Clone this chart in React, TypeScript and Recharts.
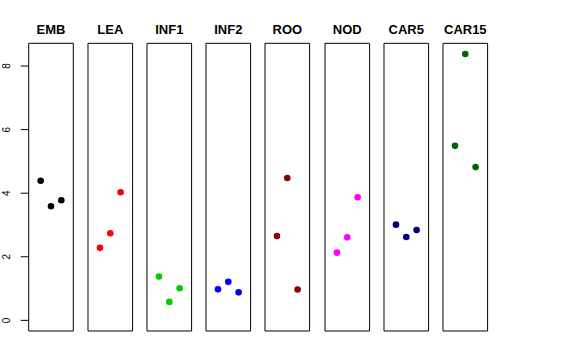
import { ScatterChart, Scatter, XAxis, YAxis, ReferenceArea } from 'recharts';

// tissue groups, left to right
const groups = ['EMB', 'LEA', 'INF1', 'INF2', 'ROO', 'NOD', 'CAR5', 'CAR15'];

// three replicates per group
const embValues = [4.39, 3.59, 3.78];
const leaValues = [2.28, 2.74, 4.03];
const inf1Values = [1.38, 0.58, 1.01];
const inf2Values = [0.98, 1.21, 0.88];
const rooValues = [2.65, 4.48, 0.97];
const nodValues = [2.13, 2.61, 3.87];
const car5Values = [3.01, 2.62, 2.84];
const car15Values = [5.49, 8.38, 4.82];

const groupValues = [embValues, leaValues, inf1Values, inf2Values, rooValues, nodValues, car5Values, car15Values];
const groupColors = ['#000000', '#FF0000', '#00CD00', '#0000FF', '#8B0000', '#FF00FF', '#000080', '#006400'];

// replicate index used as the x position inside a panel
const replicates = [1, 2, 3];
const yTicks = [0, 2, 4, 6, 8];

const X_DOMAIN: [number, number] = [-0.16, 4.16];
const Y_DOMAIN: [number, number] = [-0.335, 8.715];

const FONT = '"Liberation Sans", Arial, Helvetica, sans-serif';
const PANEL_W = 44.6;
const PANEL_STEP = 59.19;
const FIRST_LEFT = 28.7;
const SIDE = 10;
const TOP = 43.3;
const BOTTOM = 29;

function RotatedTick({ x, y, payload }: any) {
    return (
        <text
            x={x - 9}
            y={y}
            transform={`rotate(-90, ${x - 9}, ${y})`}
            textAnchor="middle"
            fontSize={10}
            fontFamily={FONT}
            fill="#000"
        >
            {payload.value}
        </text>
    );
}

function Panel({ index }: { index: number }) {
    const color = groupColors[index];
    const data = replicates.map((r, i) => ({ x: r, y: groupValues[index][i] }));
    const first = index === 0;
    const left = FIRST_LEFT + index * PANEL_STEP;
    const marginLeft = first ? 0 : SIDE;
    const width = PANEL_W + SIDE + (first ? FIRST_LEFT : SIDE);

    return (
        <div style={{ position: 'absolute', top: 0, left: first ? 0 : left - SIDE }}>
            <ScatterChart
                width={width}
                height={360}
                margin={{ top: TOP, bottom: BOTTOM, left: marginLeft, right: SIDE }}
                style={{ overflow: 'visible' }}
            >
                <XAxis type="number" dataKey="x" domain={X_DOMAIN} hide allowDataOverflow />
                <YAxis
                    type="number"
                    dataKey="y"
                    domain={Y_DOMAIN}
                    ticks={yTicks}
                    hide={!first}
                    width={FIRST_LEFT}
                    axisLine={false}
                    tickSize={8}
                    tickLine={{ stroke: '#000' }}
                    tick={<RotatedTick />}
                    allowDataOverflow
                />
                <ReferenceArea
                    x1={X_DOMAIN[0]}
                    x2={X_DOMAIN[1]}
                    y1={Y_DOMAIN[0]}
                    y2={Y_DOMAIN[1]}
                    fill="none"
                    fillOpacity={0}
                    stroke="#000"
                    strokeOpacity={1}
                    ifOverflow="visible"
                    label={{
                        value: groups[index],
                        position: 'top',
                        offset: 9,
                        fontSize: 13,
                        fontWeight: 'bold',
                        fontFamily: FONT,
                        fill: '#000',
                    }}
                />
                <Scatter
                    data={data}
                    isAnimationActive={false}
                    shape={(p: any) => <circle cx={p.cx} cy={p.cy} r={3.3} fill={color} />}
                />
            </ScatterChart>
        </div>
    );
}

export default function App() {
    return (
        <div style={{ position: 'absolute', left: 0, top: 0, width: 576, height: 360, background: '#fff' }}>
            {groups.map((g, i) => (
                <Panel key={g} index={i} />
            ))}
        </div>
    );
}
